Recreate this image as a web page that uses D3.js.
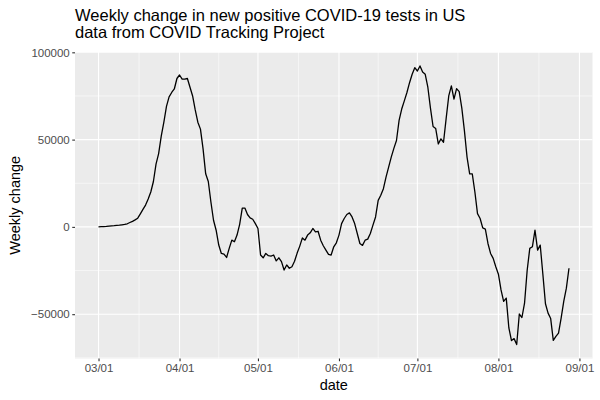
<!DOCTYPE html>
<html>
<head>
<meta charset="utf-8">
<script src="https://cdn.jsdelivr.net/npm/d3@7"></script>
<style>
  body { margin: 0; background: #fff; }
  svg { display: block; font-family: "Liberation Sans", Arial, sans-serif; }
</style>
</head>
<body>
<svg class="chart-svg" width="600" height="400"></svg>
<script>
// daily values starting 2020-03-01
const startDate = "2020-03-01";
const weeklyChange = [
  0, 100, 200, 300, 450, 600, 700, 850, 1000, 1200,
  1400, 1800, 2500, 3200, 4000, 5000, 7500, 10000, 12500, 16000,
  20000, 26000, 36000, 42000, 52000, 60000, 69000, 74500, 77000, 79000,
  85000, 87000, 84600, 84600, 85000, 80000, 75000, 67000, 60000, 56000,
  44700, 30400, 26000, 14250, 3800, -1900, -10400, -15200, -15600, -17500,
  -12300, -7600, -8500, -4700, 1500, 10800, 10800, 7100, 5200, 4400,
  1900, -900, -16100, -17700, -15200, -16500, -16700, -16100, -19500, -17700,
  -19900, -24700, -21800, -23700, -22800, -19700, -15000, -11000, -6300, -7600,
  -4700, -3400, -900, -2800, -2500, -7600, -10800, -13300, -15700, -16100,
  -11400, -9100, -4700, 1900, 4800, 7100, 8000, 5700, 1900, -3800,
  -9500, -10600, -7600, -7000, -3800, 1000, 5700, 15200, 18100, 21900,
  28500, 34200, 40000, 45000, 49500, 61000, 67500, 72200, 77000, 82600,
  87400, 91200, 89300, 92200, 88700, 87400, 80000, 68000, 57500, 56400,
  47500, 50400, 48500, 62000, 75000, 80800, 73200, 79200, 77500, 68000,
  55000, 40000, 30400, 30400, 20000, 7600, 4800, -600, -1300, -9500,
  -15200, -18000, -22800, -27100, -36100, -42700, -40800, -57900, -65100, -64000,
  -67400, -49900, -51900, -43700, -25000, -12300, -11400, -1900, -13300, -10400,
  -27000, -44000, -49400, -52500, -65000, -62700, -60800, -52200, -42700, -35100,
  -23700
];
const yBreaks = [-50000, 0, 50000, 100000];
const yMinor = [-75000, -25000, 25000, 75000];
const xBreakStrings = ["2020-03-01", "2020-04-01", "2020-05-01", "2020-06-01", "2020-07-01", "2020-08-01", "2020-09-01"];

const titleLines = ["Weekly change in new positive COVID-19 tests in US", "data from COVID Tracking Project"];

const parseDate = d3.utcParse("%Y-%m-%d");
const start = parseDate(startDate);
const data = weeklyChange.map((v, i) => ({ date: d3.utcDay.offset(start, i), value: v }));
const xBreaks = xBreakStrings.map(parseDate);
// minor breaks half way between the majors
const xMinor = d3.pairs(xBreaks).map(([a, b]) => new Date((+a + +b) / 2));

const panel = { left: 75, right: 592.5, top: 52, bottom: 358.5 };

// ggplot style 5% expansion
const xExt = d3.extent(data, d => d.date);
const xPad = (xExt[1] - xExt[0]) * 0.05;
const x = d3.scaleUtc()
  .domain([new Date(+xExt[0] - xPad), new Date(+xExt[1] + xPad)])
  .range([panel.left, panel.right]);

const yExt = d3.extent(data, d => d.value);
const yPad = (yExt[1] - yExt[0]) * 0.05;
const y = d3.scaleLinear()
  .domain([yExt[0] - yPad, yExt[1] + yPad])
  .range([panel.bottom, panel.top]);

const svg = d3.select(".chart-svg");

svg.append("rect")
  .attr("x", panel.left).attr("y", panel.top)
  .attr("width", panel.right - panel.left)
  .attr("height", panel.bottom - panel.top)
  .attr("fill", "#EBEBEB");

const grid = svg.append("g").attr("stroke", "white").attr("fill", "none");

grid.selectAll(".ymin").data(yMinor.filter(v => y(v) <= panel.bottom && y(v) >= panel.top))
  .join("line")
  .attr("x1", panel.left).attr("x2", panel.right)
  .attr("y1", d => y(d)).attr("y2", d => y(d))
  .attr("stroke-width", 0.55);

grid.selectAll(".xmin").data(xMinor)
  .join("line")
  .attr("y1", panel.top).attr("y2", panel.bottom)
  .attr("x1", d => x(d)).attr("x2", d => x(d))
  .attr("stroke-width", 0.55);

grid.selectAll(".ymaj").data(yBreaks)
  .join("line")
  .attr("x1", panel.left).attr("x2", panel.right)
  .attr("y1", d => y(d)).attr("y2", d => y(d))
  .attr("stroke-width", 1.1);

grid.selectAll(".xmaj").data(xBreaks)
  .join("line")
  .attr("y1", panel.top).attr("y2", panel.bottom)
  .attr("x1", d => x(d)).attr("x2", d => x(d))
  .attr("stroke-width", 1.1);

const line = d3.line()
  .x(d => x(d.date))
  .y(d => y(d.value));

svg.append("path")
  .datum(data)
  .attr("fill", "none")
  .attr("stroke", "black")
  .attr("stroke-width", 1.3)
  .attr("stroke-linejoin", "round")
  .attr("d", line);

// axes
const xAxis = d3.axisBottom(x)
  .tickValues(xBreaks)
  .tickFormat(d3.utcFormat("%m/%d"))
  .tickSize(2.75)
  .tickPadding(2.5);

const yAxis = d3.axisLeft(y)
  .tickValues(yBreaks)
  .tickFormat(d3.format("d"))
  .tickSize(2.75)
  .tickPadding(2.5);

function styleAxis(g) {
  g.select(".domain").remove();
  g.selectAll(".tick line").attr("stroke", "#333333").attr("stroke-width", 1.1);
  g.selectAll(".tick text")
    .attr("fill", "#4D4D4D")
    .style("font-size", "11.5px")
    .style("font-family", "'Liberation Sans', Arial, sans-serif");
}

svg.append("g")
  .attr("transform", `translate(0,${panel.bottom})`)
  .call(xAxis)
  .call(styleAxis);

svg.append("g")
  .attr("transform", `translate(${panel.left},0)`)
  .call(yAxis)
  .call(styleAxis);

// axis titles
svg.append("text")
  .attr("x", (panel.left + panel.right) / 2)
  .attr("y", 390)
  .attr("text-anchor", "middle")
  .style("font-size", "14.5px")
  .attr("fill", "black")
  .text("date");

svg.append("text")
  .attr("transform", `translate(20,${(panel.top + panel.bottom) / 2}) rotate(-90)`)
  .attr("text-anchor", "middle")
  .style("font-size", "14.5px")
  .attr("fill", "black")
  .text("Weekly change");

// title
svg.append("g").selectAll("text")
  .data(titleLines)
  .join("text")
  .attr("x", panel.left)
  .attr("y", (d, i) => 21 + i * 17)
  .style("font-size", "16.5px")
  .attr("fill", "black")
  .text(d => d);
</script>
</body>
</html>
